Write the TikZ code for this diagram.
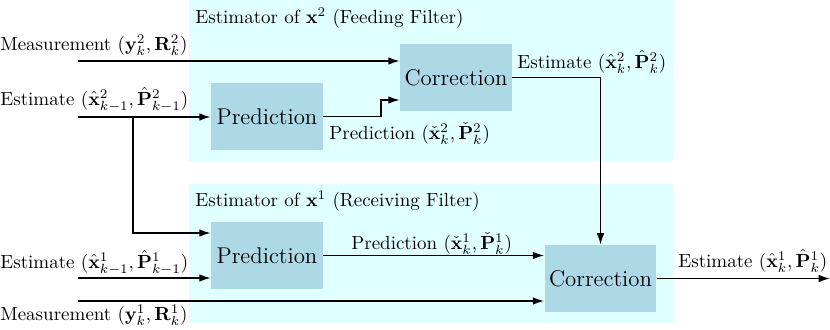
\documentclass[tikz,border=0pt]{standalone}
\usepackage{amsmath}
\usetikzlibrary{arrows.meta,calc}
\definecolor{bgcyan}{RGB}{224,255,255}
\definecolor{boxblue}{RGB}{173,216,230}
\begin{document}
\begin{tikzpicture}[x=0.5263pt,y=-0.5263pt,
  blk/.style={fill=boxblue, draw=none, minimum width=58.9pt, minimum height=35.3pt, inner sep=0pt, font=\large},
  lbl/.style={anchor=base west, inner sep=0pt},
  arr/.style={line width=0.8pt, -{Latex[length=6pt,width=4pt]}}]
\useasboundingbox (0,0) rectangle (830,329);
\fill[bgcyan] (189,0) rectangle (673,161);
\fill[bgcyan] (189,184) rectangle (673,323);

\node[blk] (p2) at (267,116.5) {Prediction};
\node[blk] (c2) at (456,77.5) {Correction};
\node[blk] (p1) at (267,255.5) {Prediction};
\node[blk] (c1) at (600.5,278.5) {Correction};

\node[lbl] (t2) at (195,23) {Estimator of $\mathbf{x}^2$ (Feeding Filter)};
\node[lbl] (t1) at (195,206) {Estimator of $\mathbf{x}^1$ (Receiving Filter)};
\node[lbl] (lm2) at (0,50) {Measurement $(\mathbf{y}_k^2,\mathbf{R}_k^2)$};
\node[lbl] (le2) at (0,105) {Estimate $(\hat{\mathbf{x}}_{k-1}^2,\hat{\mathbf{P}}_{k-1}^2)$};
\node[lbl] (lp2) at (329,139) {Prediction $(\check{\mathbf{x}}_k^2,\check{\mathbf{P}}_k^2)$};
\node[lbl] (lc2) at (517,68) {Estimate $(\hat{\mathbf{x}}_k^2,\hat{\mathbf{P}}_k^2)$};
\node[lbl] (lp1) at (351,249) {Prediction $(\check{\mathbf{x}}_k^1,\check{\mathbf{P}}_k^1)$};
\node[lbl] (le1) at (0,268) {Estimate $(\hat{\mathbf{x}}_{k-1}^1,\hat{\mathbf{P}}_{k-1}^1)$};
\node[lbl] (lm1) at (0,320) {Measurement $(\mathbf{y}_k^1,\mathbf{R}_k^1)$};
\node[lbl] (lc1) at (678,267) {Estimate $(\hat{\mathbf{x}}_k^1,\hat{\mathbf{P}}_k^1)$};

\coordinate (m2) at (78,61);
\coordinate (e2) at (78,117);
\coordinate (br) at (133,117);
\coordinate (bt) at (133,233);
\coordinate (k1) at (381,117);
\coordinate (e1) at (78,278);
\coordinate (m1) at (78,301);
\coordinate (out) at (830,278.5);

\draw[arr] (m2) -- (m2 -| c2.west);
\draw[arr] (e2) -- (e2 -| p2.west);
\draw[arr] (br) -- (bt) -- (bt -| p1.west);
\draw[arr] (p2.east) -- (k1 |- p2.east) |- ($(c2.west)+(0,22.5)$);
\draw[arr] (c2.east) -| (c1.north);
\draw[arr] (e1) -- (e1 -| p1.west);
\draw[arr] (m1) -- (m1 -| c1.west);
\draw[arr] (p1.east) -- (p1.east -| c1.west);
\draw[arr] (c1.east) -- (out);
\end{tikzpicture}
\end{document}
